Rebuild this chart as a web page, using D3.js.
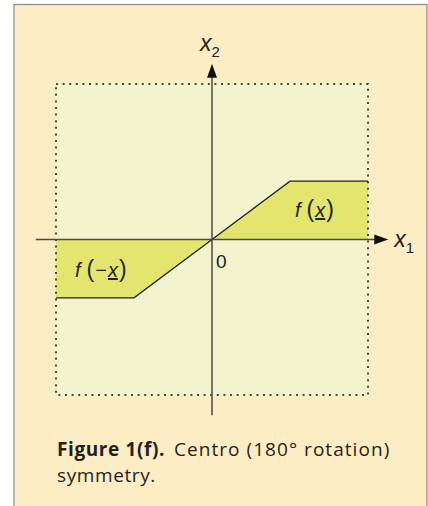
<!DOCTYPE html>
<html>
<head>
<meta charset="utf-8">
<script src="https://cdn.jsdelivr.net/npm/d3@7"></script>
<style>
  html, body { margin: 0; padding: 0; background: #ffffff; }
  svg { display: block; }
</style>
</head>
<body>
<svg id="fig" width="428" height="506"></svg>
<script>
// Piecewise-linear map f and its centro-symmetric image f(-x)
const posX = [0, 0.5, 1];
const posY = [0, 0.375, 0.375];
const negX = [0, -0.5, -1];
const negY = [0, -0.375, -0.375];

// Domain of the dotted box and the axis reach
const boxDomain = [-1, 1];
const axisReach = [-1.13, 1.13];

const captionBold = "Figure 1(f).";
const captionRest = "Centro (180\u00B0 rotation)";
const captionLine2 = "symmetry.";

const svg = d3.select("#fig");

// Panel frame
svg.append("rect").attr("x", 14).attr("y", 4.5).attr("width", 413).attr("height", 510)
  .attr("fill", "#fdedc4").attr("stroke", "#8a8a8a").attr("stroke-width", 1.2);

const x = d3.scaleLinear().domain(boxDomain).range([56, 368]);
const y = d3.scaleLinear().domain(boxDomain).range([395, 84]);

// Inner region
svg.append("rect")
  .attr("x", x(-1)).attr("y", y(1))
  .attr("width", x(1) - x(-1)).attr("height", y(-1) - y(1))
  .attr("fill", "#f2f4cd");

// Filled areas between the curve and the x1 axis
const area = d3.area().x(d => x(d[0])).y0(y(0)).y1(d => y(d[1]));
const line = d3.line().x(d => x(d[0])).y(d => y(d[1]));
const posPts = d3.zip(posX, posY);
const negPts = d3.zip(negX, negY);

svg.append("path").attr("d", area(posPts)).attr("fill", "#e3e56e");
svg.append("path").attr("d", area(negPts)).attr("fill", "#e3e56e");

// Dotted bounding box
svg.append("rect")
  .attr("x", x(-1)).attr("y", y(1))
  .attr("width", x(1) - x(-1)).attr("height", y(-1) - y(1))
  .attr("fill", "none").attr("stroke", "#4a4a44").attr("stroke-width", 2)
  .attr("stroke-dasharray", "2,4.6");

// Curves
svg.append("path").attr("d", line(posPts)).attr("fill", "none")
  .attr("stroke", "#222").attr("stroke-width", 1.3);
svg.append("path").attr("d", line(negPts)).attr("fill", "none")
  .attr("stroke", "#222").attr("stroke-width", 1.3);

// Axes
const axisColor = "#4a4a44";
svg.append("line")
  .attr("x1", x(axisReach[0])).attr("x2", x(axisReach[1]) - 10)
  .attr("y1", y(0)).attr("y2", y(0))
  .attr("stroke", axisColor).attr("stroke-width", 1.5);
svg.append("line")
  .attr("x1", x(0)).attr("x2", x(0))
  .attr("y1", y(axisReach[0])).attr("y2", y(axisReach[1]) + 10)
  .attr("stroke", axisColor).attr("stroke-width", 1.5);

// Arrow heads
const xe = x(axisReach[1]), ye = y(axisReach[1]);
svg.append("path")
  .attr("d", `M${xe},${y(0)} L${xe - 14},${y(0) - 5} L${xe - 14},${y(0) + 5} Z`)
  .attr("fill", "#111");
svg.append("path")
  .attr("d", `M${x(0)},${ye} L${x(0) - 5},${ye + 14} L${x(0) + 5},${ye + 14} Z`)
  .attr("fill", "#111");

const mathFont = "'Liberation Sans', Arial, sans-serif";

// Axis labels
const xl = svg.append("text").attr("x", xe + 6).attr("y", y(0) + 7)
  .attr("font-family", mathFont).attr("font-size", 23).attr("fill", "#222");
xl.append("tspan").attr("font-style", "italic").text("x");
xl.append("tspan").attr("font-size", 15).attr("dy", 6).text("1");

const yl = svg.append("text").attr("x", x(0) - 12).attr("y", 51)
  .attr("font-family", mathFont).attr("font-size", 23).attr("fill", "#222");
yl.append("tspan").attr("font-style", "italic").text("x");
yl.append("tspan").attr("font-size", 15).attr("dy", 6).text("2");

// Origin
svg.append("text").attr("x", x(0) + 4).attr("y", y(0) + 28)
  .attr("font-family", mathFont).attr("font-size", 19).attr("fill", "#222").text("0");

// Region labels f(x) and f(-x)
function fLabel(px, py, neg) {
  const t = svg.append("text").attr("x", px).attr("y", py)
    .attr("font-family", mathFont).attr("font-size", 20).attr("fill", "#222");
  t.append("tspan").attr("font-style", "italic").text("f");
  t.append("tspan").attr("dx", 6).attr("font-size", 23).attr("font-weight", 300).text("(");
  if (neg) t.append("tspan").attr("dx", 1).text("\u2212");
  t.append("tspan").attr("dx", 1).attr("font-style", "italic").attr("text-decoration", "underline").text("x");
  t.append("tspan").attr("dx", 1).attr("font-size", 23).text(")");
}
fLabel(295, 217, false);
fLabel(75, 277, true);

// Caption
const capFont = "'Open Sans', 'DejaVu Sans', sans-serif";
const c1 = svg.append("text").attr("x", 57).attr("y", 456)
  .attr("font-family", capFont).attr("font-size", 19).attr("letter-spacing", 0.6)
  .attr("fill", "#231f20");
c1.append("tspan").attr("font-weight", 700).text(captionBold);
c1.append("tspan").attr("dx", 9).attr("letter-spacing", 1.05).text(captionRest);
svg.append("text").attr("x", 57).attr("y", 482)
  .attr("font-family", capFont).attr("font-size", 19).attr("letter-spacing", 0.6)
  .attr("fill", "#231f20")
  .text(captionLine2);
</script>
</body>
</html>
